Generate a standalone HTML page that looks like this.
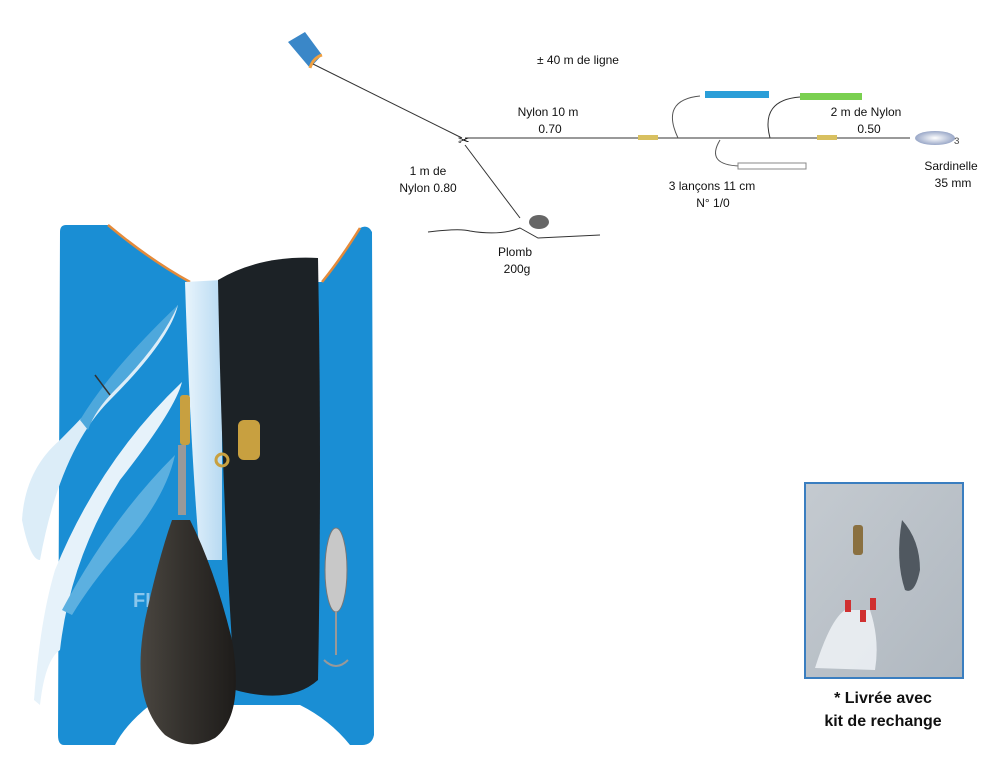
<!DOCTYPE html>
<html><head><style>
body{margin:0;background:#fff;width:1000px;height:763px;overflow:hidden;font-family:"Liberation Sans",sans-serif}
svg{position:absolute;left:0;top:0}
</style></head><body>
<svg width="1000" height="763" viewBox="0 0 1000 763" font-family="Liberation Sans, sans-serif">
<defs>
<linearGradient id="sink" x1="0" x2="1"><stop offset="0" stop-color="#4a4640"/><stop offset="0.45" stop-color="#34312d"/><stop offset="1" stop-color="#1e1c1a"/></linearGradient>
<linearGradient id="inset" x1="0" y1="0" x2="1" y2="1"><stop offset="0" stop-color="#c4cad0"/><stop offset="1" stop-color="#b0b8c0"/></linearGradient>
<radialGradient id="spoon"><stop offset="0" stop-color="#fff"/><stop offset="1" stop-color="#9aa8c8"/></radialGradient>
<linearGradient id="mono" x1="0" x2="1"><stop offset="0" stop-color="#e8f4fc"/><stop offset="1" stop-color="#b8daf2"/></linearGradient>
</defs>
<path d="M288 42 L305 32 L322 55 L310 68 Z" fill="#3a87c8"/><path d="M310 68 Q313 58 322 55" stroke="#f0a040" stroke-width="3" fill="none"/>
<line x1="313" y1="64" x2="462" y2="138" stroke="#333" stroke-width="1"/>
<line x1="465" y1="138" x2="910" y2="138" stroke="#333" stroke-width="1"/>
<line x1="465" y1="145" x2="520" y2="218" stroke="#333" stroke-width="1"/>
<text x="458" y="145" font-size="14" fill="#111">✂</text>
<ellipse cx="539" cy="222" rx="10" ry="7" fill="#666"/>
<path d="M428 232 Q460 228 470 231 Q500 236 520 228 L538 238 L600 235" stroke="#333" fill="none"/>
<rect x="638" y="135" width="20" height="5" fill="#d8c060"/><rect x="817" y="135" width="20" height="5" fill="#d8c060"/>
<path d="M678 138 Q660 100 700 96" stroke="#555" fill="none"/><rect x="705" y="91" width="64" height="7" fill="#2a9ed8"/>
<path d="M770 138 Q760 100 800 97" stroke="#333" fill="none"/><rect x="800" y="93" width="62" height="7" fill="#7ad050"/>
<path d="M720 140 Q705 165 740 166" stroke="#555" fill="none"/><rect x="738" y="163" width="68" height="6" fill="#fff" stroke="#888"/>
<ellipse cx="935" cy="138" rx="20" ry="7" fill="url(#spoon)"/><text x="954" y="144" font-size="12" fill="#555">ɜ</text>
<g font-size="12" fill="#111" text-anchor="middle">
<text x="578" y="64">± 40 m de ligne</text>
<text x="548" y="116">Nylon 10 m</text><text x="550" y="133">0.70</text>
<text x="866" y="116">2 m de Nylon</text><text x="869" y="133">0.50</text>
<text x="428" y="175">1 m de</text><text x="428" y="192">Nylon 0.80</text>
<text x="712" y="190">3 lançons 11 cm</text><text x="713" y="207">N° 1/0</text>
<text x="951" y="170">Sardinelle</text><text x="953" y="187">35 mm</text>
<text x="515" y="256">Plomb</text><text x="517" y="273">200g</text>
</g>
<path d="M66 225 L108 225 Q150 260 190 282 L322 282 Q340 260 360 228 Q368 224 372 232 L374 735 Q372 745 362 745 L350 745 Q330 720 300 705 L150 705 Q125 725 115 745 L64 745 Q58 745 58 735 L60 232 Q60 225 66 225 Z" fill="#1a8ed4"/>
<path d="M108 225 Q150 260 190 282 M322 282 Q340 260 360 228" stroke="#e48a3a" stroke-width="2.5" fill="none"/>
<text x="133" y="607" font-size="20" font-weight="bold" fill="#8ac6ec">FI</text>
<path d="M185 282 L222 280 L222 560 L200 560 Q190 440 185 282 Z" fill="url(#mono)"/>
<path d="M218 280 Q260 255 318 258 Q322 470 318 680 Q290 705 235 690 Q222 500 218 280 Z" fill="#1c2226"/>
<path d="M22 520 Q25 470 60 440 Q120 380 178 305 Q170 340 110 400 Q60 450 40 560 Q30 560 22 520 Z" fill="#dcedf8"/>
<path d="M80 420 Q110 370 178 305 Q160 345 115 390 Q95 410 88 430 Z" fill="#4ea8dc"/>
<path d="M34 700 Q40 620 55 570 Q100 460 182 382 Q175 410 120 480 Q70 560 60 650 Q45 660 40 705 Z" fill="#e6f2fa"/>
<path d="M62 610 Q110 520 175 455 Q165 500 120 550 Q90 585 72 615 Z" fill="#5cb0e0"/>
<path d="M95 375 L110 395" stroke="#333" stroke-width="1.5"/>
<rect x="180" y="395" width="10" height="50" fill="#c8a040" rx="3"/><rect x="178" y="445" width="8" height="70" fill="#999"/>
<rect x="238" y="420" width="22" height="40" fill="#c8a040" rx="6"/><circle cx="222" cy="460" r="6" fill="none" stroke="#c8a040" stroke-width="3"/>
<path d="M172 520 Q158 560 145 620 Q130 700 165 735 Q190 752 215 738 Q245 715 232 640 Q215 570 190 520 Z" fill="url(#sink)"/>
<ellipse cx="336" cy="570" rx="11" ry="42" fill="#c8c8c8" stroke="#777"/>
<line x1="336" y1="612" x2="336" y2="655" stroke="#999" stroke-width="2"/>
<path d="M324 660 Q336 672 348 660" stroke="#999" fill="none" stroke-width="2"/>
<rect x="805" y="483" width="158" height="195" fill="url(#inset)" stroke="#3a7ec0" stroke-width="2"/>
<path d="M902 520 Q920 540 920 570 Q915 595 905 590 Q895 560 902 520 Z" fill="#505860"/>
<rect x="853" y="525" width="10" height="30" fill="#8a7040" rx="3"/>
<path d="M815 668 Q830 620 845 610 L870 610 Q880 640 875 670 Z" fill="#eef2f6" opacity="0.85"/>
<rect x="845" y="600" width="6" height="12" fill="#d03030"/><rect x="870" y="598" width="6" height="12" fill="#d03030"/><rect x="860" y="610" width="6" height="12" fill="#d03030"/>
<g font-size="16" font-weight="bold" fill="#111" text-anchor="middle">
<text x="883" y="703">* Livrée avec</text><text x="883" y="726">kit de rechange</text></g>
</svg>
</body></html>
